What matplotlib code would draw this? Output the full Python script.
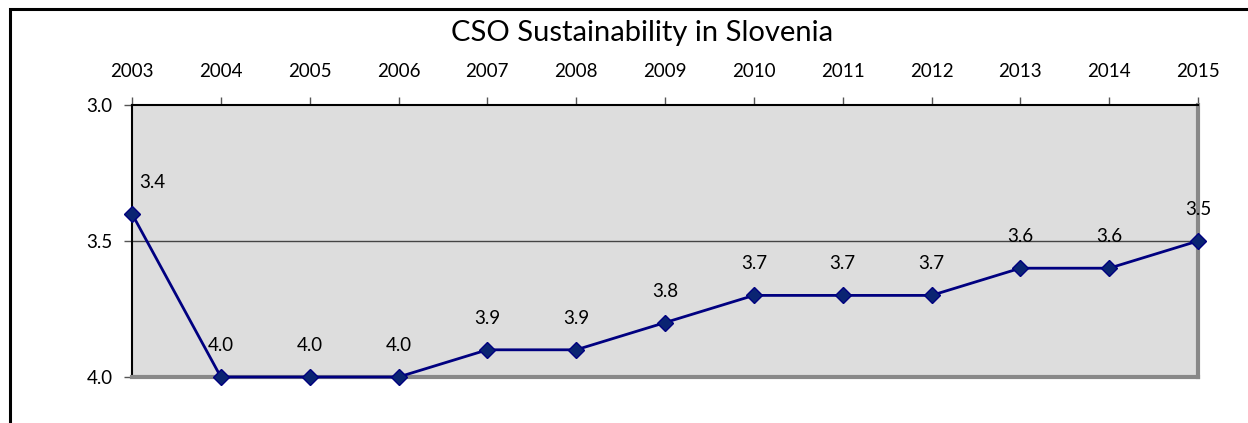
import matplotlib.pyplot as plt
from matplotlib.patches import Rectangle

plt.rcParams['font.family'] = ['Lato', 'DejaVu Sans']

years = [2003, 2004, 2005, 2006, 2007, 2008, 2009, 2010, 2011, 2012, 2013, 2014, 2015]
scores = [3.4, 4.0, 4.0, 4.0, 3.9, 3.9, 3.8, 3.7, 3.7, 3.7, 3.6, 3.6, 3.5]
y_ticks = [3.0, 3.5, 4.0]

fig = plt.figure(figsize=(12.48, 4.23), dpi=100)
ax = fig.add_axes([132 / 1248, 1 - 377 / 423, (1198 - 132) / 1248, (377 - 105) / 423])

# outer slide frame, runs off the right and bottom edge
fig.patches.append(Rectangle((10 / 1248, -0.2), 1.2, 1 - 9.5 / 423 + 0.2,
                             transform=fig.transFigure, fill=False,
                             edgecolor='black', linewidth=2.2))

ax.set_facecolor('#dddddd')
ax.plot(years, scores, color='#000080', linewidth=2, marker='D', markersize=8,
        markerfacecolor='#0a2472', markeredgecolor='#000080', clip_on=False, zorder=5)

for i, (x, y) in enumerate(zip(years, scores)):
    dx = 20 if i == 0 else 0
    ax.annotate(f'{y:.1f}', (x, y), xytext=(dx, 23), textcoords='offset pixels',
                ha='center', va='bottom', fontsize=13.5)

ax.set_xlim(years[0], years[-1])
ax.set_ylim(4.0, 3.0)
ax.set_xticks(years)
ax.set_yticks(y_ticks)
ax.set_yticklabels([f'{v:.1f}' for v in y_ticks])
ax.xaxis.tick_top()
ax.tick_params(axis='both', labelsize=13.5, length=6, color='#555555', width=1)
ax.tick_params(axis='x', pad=12)
ax.tick_params(axis='y', pad=8)
ax.axhline(3.5, color='#444444', linewidth=1, zorder=1)

ax.spines['top'].set_color('black')
ax.spines['left'].set_color('black')
ax.spines['top'].set_linewidth(1.5)
ax.spines['left'].set_linewidth(1.5)
ax.spines['bottom'].set_color('#888888')
ax.spines['right'].set_color('#888888')
ax.spines['bottom'].set_linewidth(3)
ax.spines['right'].set_linewidth(3)

fig.text(642 / 1248, 1 - 33 / 423, 'CSO Sustainability in Slovenia', ha='center', va='center',
         fontsize=21)

fig.savefig('out.png', dpi=100)
